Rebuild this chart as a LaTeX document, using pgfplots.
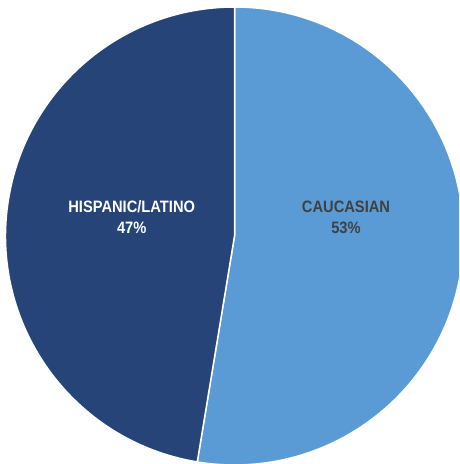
\documentclass[border=0pt]{standalone}
\usepackage{fontspec}
\usepackage{pgfplots}
\usepackage{pgfplotstable}
\pgfplotsset{compat=1.18}
\newfontfamily\lblfont[FakeStretch=0.89]{Liberation Sans}

\definecolor{hispblue}{HTML}{264478}
\definecolor{caucblue}{HTML}{5B9BD5}
\definecolor{lbldark}{HTML}{404040}

% share in percent
\pgfplotstableread{
label value
HISPANIC/LATINO 47.4
CAUCASIAN 52.6
}\piedata

\begin{document}
\begin{tikzpicture}
\pgfplotstablegetelem{0}{value}\of\piedata
\let\valH\pgfplotsretval
\pgfplotstablegetelem{1}{value}\of\piedata
\let\valC\pgfplotsretval
\pgfmathsetmacro\angSplit{90-3.6*\valC}
\begin{axis}[
    scale only axis,
    width=459pt, height=464pt,
    xmin=0, xmax=459, ymin=0, ymax=464,
    hide axis,
    clip=true, clip mode=global,
    /pgf/number format/assume math mode=true,
]
  % pie slices, clockwise from 12 o'clock
  \fill[caucblue, draw=white, line width=1.5pt]
    (axis cs:234.5,228) -- +(90:229pt)
    arc[start angle=90, end angle=\angSplit, radius=229pt] -- cycle;
  \fill[hispblue, draw=white, line width=1.5pt]
    (axis cs:234.5,228) -- +(\angSplit:229pt)
    arc[start angle=\angSplit, end angle=-270, radius=229pt] -- cycle;
  \node[align=center, text=white, font=\lblfont\bfseries\fontsize{16.5}{21}\selectfont]
    at (axis cs:131.7,247) {HISPANIC/LATINO\\\pgfmathprintnumber[fixed,precision=0,assume math mode=true]{\valH}\%};
  \node[align=center, text=lbldark, font=\lblfont\bfseries\fontsize{16.5}{21}\selectfont]
    at (axis cs:346,247) {CAUCASIAN\\\pgfmathprintnumber[fixed,precision=0,assume math mode=true]{\valC}\%};
\end{axis}
\pgfresetboundingbox
\useasboundingbox (current axis.south west) rectangle (current axis.north east);
\end{tikzpicture}
\end{document}
